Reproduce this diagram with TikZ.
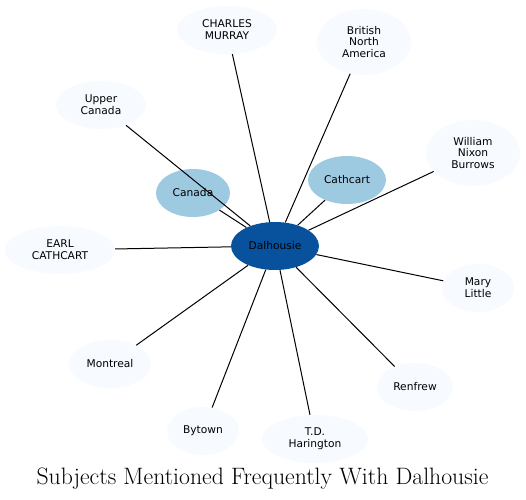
\documentclass[tikz,border=0pt]{standalone}
\usepackage{fontspec}
\newfontfamily\labelfont{DejaVu Sans}
\usetikzlibrary{shapes.geometric}

\definecolor{hubblue}{HTML}{08519C}
\definecolor{midblue}{HTML}{9ECAE1}
\definecolor{paleblue}{HTML}{F7FBFF}

\begin{document}
\begin{tikzpicture}[x=0.75pt, y=-0.75pt,
    subject/.style={ellipse, fill=paleblue, inner sep=0pt, align=center,
        minimum height=36pt, font=\labelfont\fontsize{8}{8.9}\selectfont},
    tall/.style={minimum height=49.5pt},
    near/.style={subject, fill=midblue},
    hub/.style={subject, fill=hubblue},
    link/.style={line width=0.75pt}]

% Cornice
\useasboundingbox (0,0) rectangle (526,500);

% Nodo centrale
\node[hub, minimum width=66pt] (dal) at (275,246) {Dalhousie};

% Soggetti vicini
\node[near, minimum width=55.5pt] (can) at (193,193) {Canada};
\node[near, minimum width=58.5pt] (cat) at (347,180) {Cathcart};

% Soggetti esterni
\node[subject, minimum width=75pt] (mur) at (227,30) {CHARLES\\MURRAY};
\node[subject, tall, minimum width=70.5pt] (bna) at (364,42) {British\\North\\America};
\node[subject, minimum width=67.5pt] (upc) at (101,105) {Upper\\Canada};
\node[subject, tall, minimum width=70.5pt] (wnb) at (473,153) {William\\Nixon\\Burrows};
\node[subject, minimum width=82.5pt] (ear) at (60,250) {EARL\\CATHCART};
\node[subject, minimum width=54pt] (mar) at (478,288) {Mary\\Little};
\node[subject, minimum width=61.5pt] (mon) at (110,364) {Montreal};
\node[subject, minimum width=57pt] (ren) at (415,387) {Renfrew};
\node[subject, minimum width=54pt] (byt) at (203,431) {Bytown};
\node[subject, minimum width=79.5pt] (har) at (315,439) {T.D.\\Harington};

% Collegamenti
\foreach \other in {can,cat,mur,bna,upc,wnb,ear,mar,mon,ren,byt,har}
    \draw[link] (dal) -- (\other);

% Titolo
\node[anchor=base, inner sep=0pt] (title) at (262.5,484) {\fontsize{17.8}{20}\selectfont Subjects Mentioned Frequently With Dalhousie};

\end{tikzpicture}
\end{document}
